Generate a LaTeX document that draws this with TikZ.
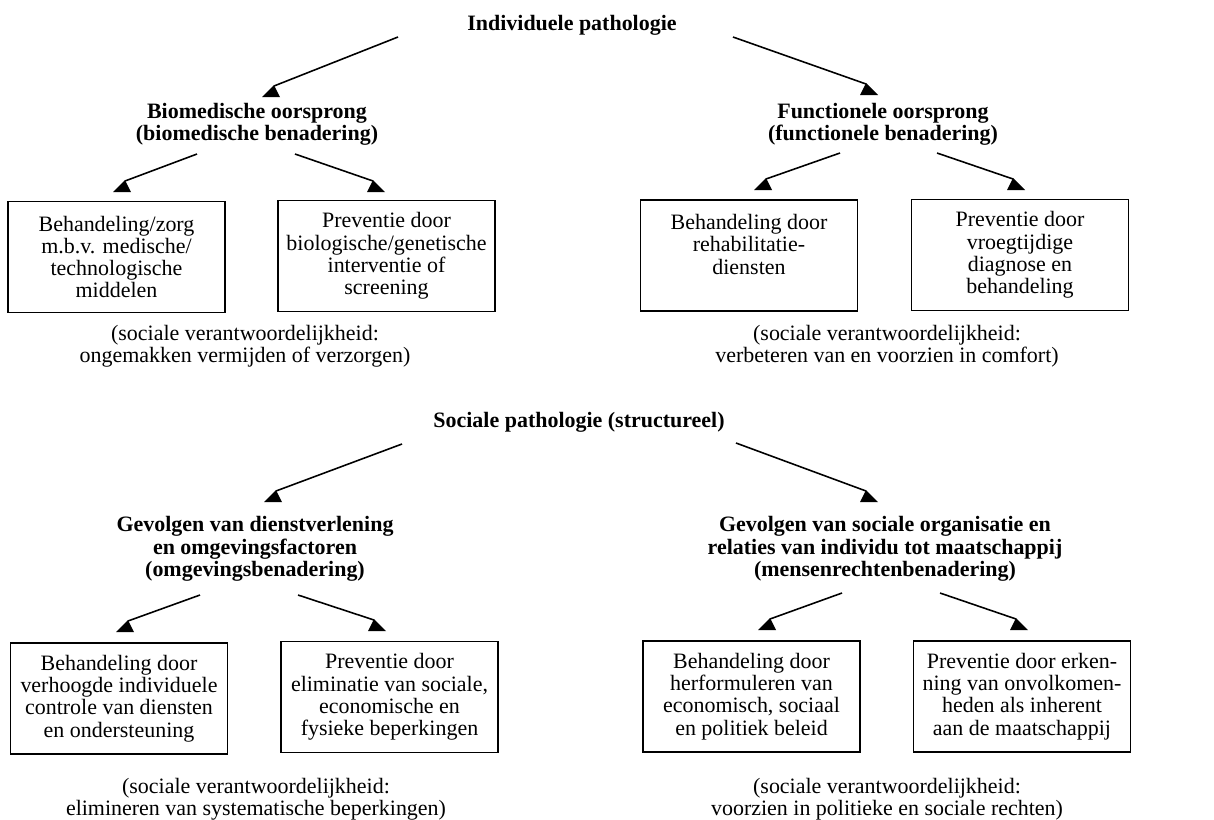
\documentclass[tikz,border=0pt]{standalone}
\usepackage{fontspec}
\setmainfont{Liberation Serif}
\usetikzlibrary{positioning}

\tikzset{
  txt/.style={align=center, inner sep=0pt, font=\fontsize{12.5}{12.7}\selectfont},
  head/.style={txt, font=\bfseries\fontsize{12.5}{12.7}\selectfont},
  box/.style={txt, draw, line width=0.9pt, minimum width=4.34cm, minimum height=2.22cm},
  conn/.style={line width=0.9pt},
  tipl/.pic={\fill (0,-1) -- (-12,11) -- (6,11) -- cycle;},
  tipr/.pic={\fill (0,-1) -- (-6,11) -- (12,11) -- cycle;}
}

\begin{document}
\begin{tikzpicture}[x=0.02cm, y=-0.02cm]
  \useasboundingbox (0,0) rectangle (1214,819);

  % individual pathology
  \node[head] (ip) at (572,25) {Individuele pathologie};
  \node[head] (bio) at (257,124) {Biomedische oorsprong\\(biomedische benadering)};
  \node[head] (fun) at (883,124) {Functionele oorsprong\\(functionele benadering)};

  \node[box] (b1) at (116.5,257) {Behandeling/zorg\\m.b.v. medische/\\technologische\\middelen};
  \node[box] (b2) at (386.5,256) {Preventie door\\biologische/genetische\\interventie of\\screening};
  \node[box] (b3) at (749,255.5) {Behandeling door\\rehabilitatie-\\diensten\\~};
  \node[box] (b4) at (1020,255) {Preventie door\\vroegtijdige\\diagnose en\\behandeling};

  \node[txt] (cap1) at (245,346) {(sociale verantwoordelijkheid:\\ongemakken vermijden of verzorgen)};
  \node[txt] (cap2) at (887,346) {(sociale verantwoordelijkheid:\\verbeteren van en voorzien in comfort)};

  % social pathology
  \node[head] (sp) at (579,422) {Sociale pathologie (structureel)};
  \node[head] (gl) at (255,549) {Gevolgen van dienstverlening\\en omgevingsfactoren\\(omgevingsbenadering)};
  \node[head] (gr) at (885,549) {Gevolgen van sociale organisatie en\\relaties van individu tot maatschappij\\(mensenrechtenbenadering)};

  \node[box] (c1) at (119,698.5) {Behandeling door\\verhoogde individuele\\controle van diensten\\en ondersteuning};
  \node[box] (c2) at (389.5,697) {Preventie door\\eliminatie van sociale,\\economische en\\fysieke beperkingen};
  \node[box] (c3) at (751.5,696.5) {Behandeling door\\herformuleren van\\economisch, sociaal\\en politiek beleid};
  \node[box] (c4) at (1022,696.5) {Preventie door erken-\\ning van onvolkomen-\\heden als inherent\\aan de maatschappij};

  \node[txt] (cap3) at (256,799) {(sociale verantwoordelijkheid:\\elimineren van systematische beperkingen)};
  \node[txt] (cap4) at (887,799) {(sociale verantwoordelijkheid:\\voorzien in politieke en sociale rechten)};

  % arrows
  \foreach \n/\sx/\sy/\ex/\ey/\t in {
      1/398/37/274/86/tipl, 2/733/37/866/84/tipr,
      3/197/154/125/181/tipl, 4/295/154/373/181/tipr,
      5/840/153/766/179/tipl, 6/937/153/1013/179/tipr,
      7/402/444/276/491/tipl, 8/736/443/866/491/tipr,
      9/200/595/128/621/tipl, 10/298/595/374/620/tipr,
      11/842/593/770/619/tipl, 12/940/593/1016/619/tipr} {
    \coordinate (s\n) at (\sx,\sy);
    \coordinate (e\n) at (\ex,\ey);
    \draw[conn] (s\n) -- (e\n);
    \pic at (e\n) {\t};
  }
\end{tikzpicture}
\end{document}
